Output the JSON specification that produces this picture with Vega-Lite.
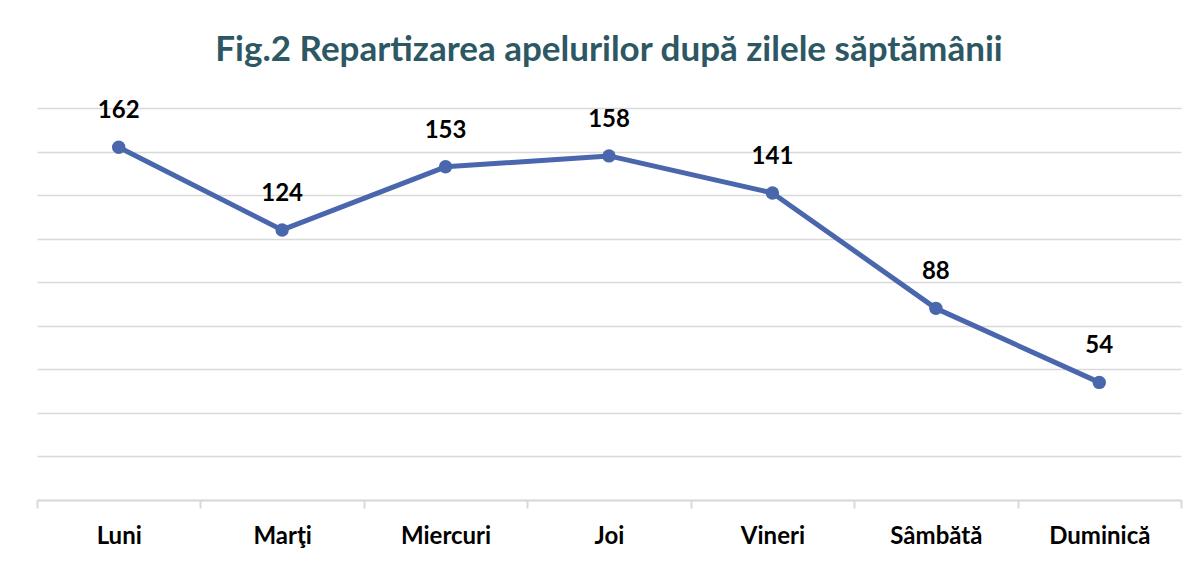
{
  "$schema": "https://vega.github.io/schema/vega-lite/v6.json",
  "autosize": "none",
  "width": 1144,
  "height": 392,
  "padding": {"left": 37, "top": 108, "right": 19, "bottom": 62},
  "background": "white",
  "title": {
    "text": "Fig.2 Repartizarea apelurilor după zilele săptămânii",
    "anchor": "middle",
    "orient": "top",
    "font": "Lato",
    "fontSize": 35,
    "fontWeight": "bold",
    "color": "#2C5763",
    "baseline": "alphabetic",
    "offset": 3
  },
  "data": {
    "values": [
      {"zi": "Luni", "apeluri": 162},
      {"zi": "Marţi", "apeluri": 124},
      {"zi": "Miercuri", "apeluri": 153},
      {"zi": "Joi", "apeluri": 158},
      {"zi": "Vineri", "apeluri": 141},
      {"zi": "Sâmbătă", "apeluri": 88},
      {"zi": "Duminică", "apeluri": 54}
    ]
  },
  "config": {
    "view": {"stroke": null},
    "font": "Lato"
  },
  "encoding": {
    "x": {
      "field": "zi",
      "type": "nominal",
      "sort": null,
      "scale": {"type": "band", "paddingInner": 0, "paddingOuter": 0},
      "axis": {
        "title": null,
        "labelAngle": 0,
        "labelFont": "Lato",
        "labelFontSize": 24,
        "labelFontWeight": "bold",
        "labelColor": "#000000",
        "labelBaseline": "middle",
        "labelPadding": 28,
        "tickSize": 8,
        "tickBand": "extent",
        "tickColor": "#D9D9D9",
        "tickWidth": 2,
        "domainColor": "#D9D9D9",
        "domainWidth": 2,
        "grid": false
      }
    },
    "y": {
      "field": "apeluri",
      "type": "quantitative",
      "scale": {"domain": [0, 180], "nice": false},
      "axis": {
        "title": null,
        "labels": false,
        "ticks": false,
        "domain": false,
        "values": [0, 20, 40, 60, 80, 100, 120, 140, 160, 180],
        "gridColor": "#D9D9D9",
        "gridWidth": 1.5
      }
    }
  },
  "layer": [
    {
      "mark": {"type": "line", "color": "#4A66AC", "strokeWidth": 5, "strokeCap": "round", "strokeJoin": "round"}
    },
    {
      "mark": {"type": "point", "filled": true, "opacity": 1, "color": "#4A66AC", "size": 180}
    },
    {
      "mark": {"type": "text", "dy": -36, "baseline": "middle", "fontSize": 24, "fontWeight": "bold", "font": "Lato", "color": "#000000"},
      "encoding": {"text": {"field": "apeluri", "type": "quantitative"}}
    }
  ]
}
